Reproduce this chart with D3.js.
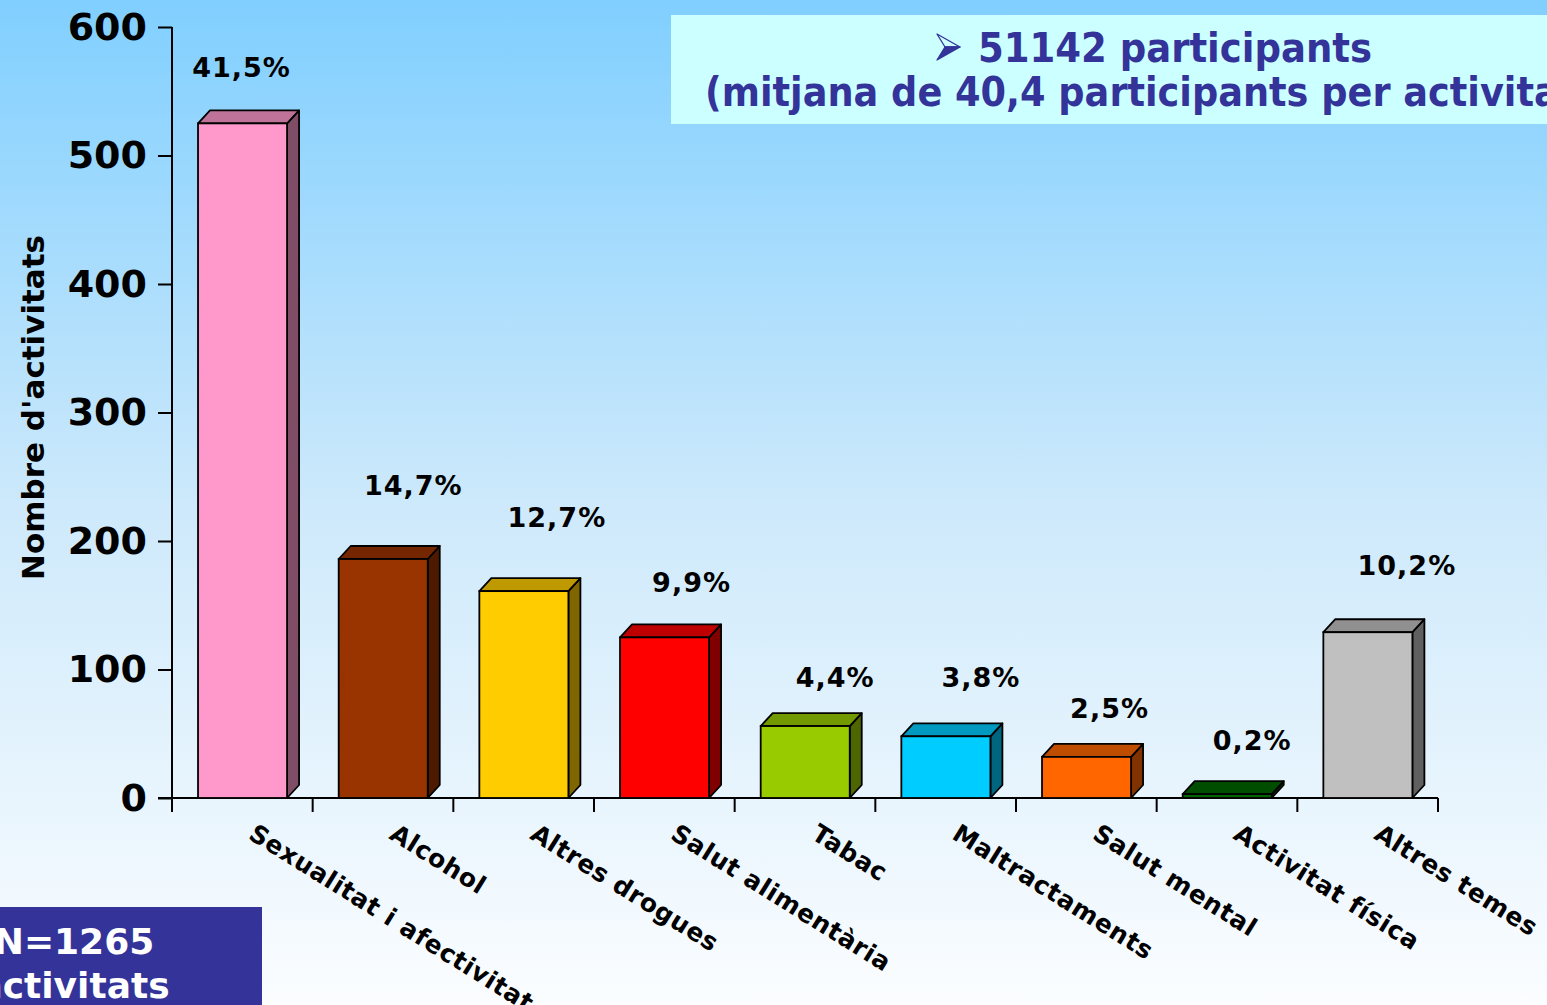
<!DOCTYPE html>
<html>
<head>
<meta charset="utf-8">
<script src="https://cdn.jsdelivr.net/npm/d3@7/dist/d3.min.js"></script>
<style>
  html, body { margin: 0; padding: 0; overflow: hidden; }
  svg { display: block; }
  text { font-family: "DejaVu Sans", Verdana, sans-serif; font-weight: bold; }
</style>
</head>
<body>
<svg id="chart" width="1547" height="1005"></svg>
<script>
// ---- data ----
const categories = ["Sexualitat i afectivitat", "Alcohol", "Altres drogues", "Salut alimentària",
  "Tabac", "Maltractaments", "Salut mental", "Activitat física", "Altres temes"];
const activityCounts = [525, 186, 161, 125, 56, 48, 32, 3, 129];
const percentLabels = ["41,5%", "14,7%", "12,7%", "9,9%", "4,4%", "3,8%", "2,5%", "0,2%", "10,2%"];
const barColors = ["#ff99cc", "#993300", "#ffcc00", "#ff0000", "#99cc00", "#00ccff", "#ff6600", "#006600", "#c0c0c0"];
const yTicks = [0, 100, 200, 300, 400, 500, 600];
const yTitle = "Nombre d'activitats";
const participantsLine1 = "51142 participants";
const participantsLine2 = "(mitjana de 40,4 participants per activitat)";
const totalLine1 = "N=1265";
const totalLine2 = "activitats";

// label placement tweaks (layout only, px)
const labelShiftX = [-1, 30, 33, 27, 30, 35, 23, 25, 39];
const labelGapY = [33, 51, 51, 32, 26, 36, 26, 31, 44];

// ---- layout ----
const W = 1547, H = 1005;
const svg = d3.select("#chart");
const defs = svg.append("defs");
const grad = defs.append("linearGradient").attr("id", "bg").attr("x1", 0).attr("y1", 0).attr("x2", 0).attr("y2", 1);
grad.append("stop").attr("offset", 0).attr("stop-color", "#80cfff");
grad.append("stop").attr("offset", 0.5).attr("stop-color", "#cde9fb");
grad.append("stop").attr("offset", 1).attr("stop-color", "#fbfdff");
svg.append("rect").attr("width", W).attr("height", H).attr("fill", "url(#bg)");

const x0 = 172, x1 = 1438, yBase = 798, yTop = 27;
const x = d3.scaleBand().domain(categories).range([x0, x1]).padding(0);
const y = d3.scaleLinear().domain([0, 600]).range([yBase, yTop]);
const bw = x.bandwidth();
const faceOff = bw * 0.185, faceW = bw * 0.633;
const dx = 12, dy = 13;

// Top-right info box
svg.append("rect").attr("x", 671).attr("y", 15).attr("width", 900).attr("height", 109).attr("fill", "#ccffff");
// bullet arrowhead (decorative)
const bullet = svg.append("g").attr("transform", "translate(937,34)");
bullet.append("path").attr("d", "M0,0 L23,13 L8,13 Z").attr("fill", "#ccffff").attr("stroke", "#333399").attr("stroke-width", 1.3).attr("stroke-linejoin", "round");
bullet.append("path").attr("d", "M8,13 L23,13 L0,26 Z").attr("fill", "#333399").attr("stroke", "#333399").attr("stroke-width", 1.3).attr("stroke-linejoin", "round");
svg.append("text").attr("x", 978).attr("y", 62).attr("font-size", 40).attr("fill", "#333399")
  .attr("textLength", 394).attr("lengthAdjust", "spacingAndGlyphs").text(participantsLine1);
svg.append("text").attr("x", 705).attr("y", 106).attr("font-size", 40).attr("fill", "#333399")
  .attr("textLength", 888).attr("lengthAdjust", "spacingAndGlyphs").text(participantsLine2);

// Bottom-left box
svg.append("rect").attr("x", 0).attr("y", 907).attr("width", 262).attr("height", 98).attr("fill", "#333399");
svg.append("text").attr("x", 74).attr("y", 954).attr("text-anchor", "middle").attr("font-size", 36).attr("fill", "#ffffff").text(totalLine1);
svg.append("text").attr("x", 74).attr("y", 998).attr("text-anchor", "middle").attr("font-size", 36).attr("fill", "#ffffff").text(totalLine2);

// Axes
const axisG = svg.append("g");
const yAxis = d3.axisLeft(y).tickValues(yTicks).tickSize(14).tickPadding(11).tickSizeOuter(0);
const yg = axisG.append("g").attr("transform", `translate(${x0},0)`).call(yAxis);
yg.select(".domain").remove();
yg.selectAll(".tick line").attr("stroke", "#000").attr("stroke-width", 2);
yg.selectAll(".tick text").attr("font-size", 38).attr("fill", "#000")
  .style("font-family", "'DejaVu Sans', Verdana, sans-serif").style("font-weight", "bold");
axisG.append("line").attr("x1", x0).attr("x2", x0).attr("y1", y(600)).attr("y2", yBase + 14)
  .attr("stroke", "#000").attr("stroke-width", 2);
axisG.append("line").attr("x1", x0 - 14).attr("x2", x1).attr("y1", yBase).attr("y2", yBase)
  .attr("stroke", "#000").attr("stroke-width", 2);
const boundaries = categories.map(c => x(c)).concat([x.range()[1]]);
axisG.selectAll(".xtick").data(boundaries).join("line").attr("class", "xtick")
  .attr("x1", d => d).attr("x2", d => d).attr("y1", yBase).attr("y2", yBase + 14)
  .attr("stroke", "#000").attr("stroke-width", 2);

// Y title
svg.append("text").attr("transform", `translate(44,${(y(0) + y(600)) / 2 - 5}) rotate(-90)`)
  .attr("text-anchor", "middle").attr("font-size", 31).attr("fill", "#000").text(yTitle);

// Bars (3D)
const shade = (c, k) => { const r = d3.rgb(c); return d3.rgb(r.r * k, r.g * k, r.b * k).formatHex(); };
const bars = svg.append("g").selectAll("g").data(categories).join("g");
bars.each(function(c, i) {
  const g = d3.select(this);
  const xl = x(c) + faceOff, xr = xl + faceW;
  const yt = y(activityCounts[i]), yb = y(0);
  const col = barColors[i];
  g.append("path").attr("d", `M${xr},${yb} L${xr + dx},${yb - dy} L${xr + dx},${yt - dy} L${xr},${yt} Z`)
    .attr("fill", shade(col, 0.5)).attr("stroke", "#000").attr("stroke-width", 1.8).attr("stroke-linejoin", "round");
  g.append("path").attr("d", `M${xl},${yt} L${xl + dx},${yt - dy} L${xr + dx},${yt - dy} L${xr},${yt} Z`)
    .attr("fill", shade(col, 0.75)).attr("stroke", "#000").attr("stroke-width", 1.8).attr("stroke-linejoin", "round");
  g.append("rect").attr("x", xl).attr("y", yt).attr("width", faceW).attr("height", yb - yt)
    .attr("fill", col).attr("stroke", "#000").attr("stroke-width", 1.8);
  g.append("text").attr("x", xl + faceW / 2 + labelShiftX[i]).attr("y", yt - dy - labelGapY[i])
    .attr("text-anchor", "middle").attr("font-size", 27).attr("letter-spacing", 1).attr("fill", "#000").text(percentLabels[i]);
});

// Category labels
svg.append("g").selectAll("text").data(categories).join("text")
  .attr("transform", d => `translate(${x(d) + bw / 2 + 5},838) rotate(32)`)
  .attr("font-size", 25).attr("letter-spacing", 0.6).attr("fill", "#000").text(d => d);
</script>
</body>
</html>
